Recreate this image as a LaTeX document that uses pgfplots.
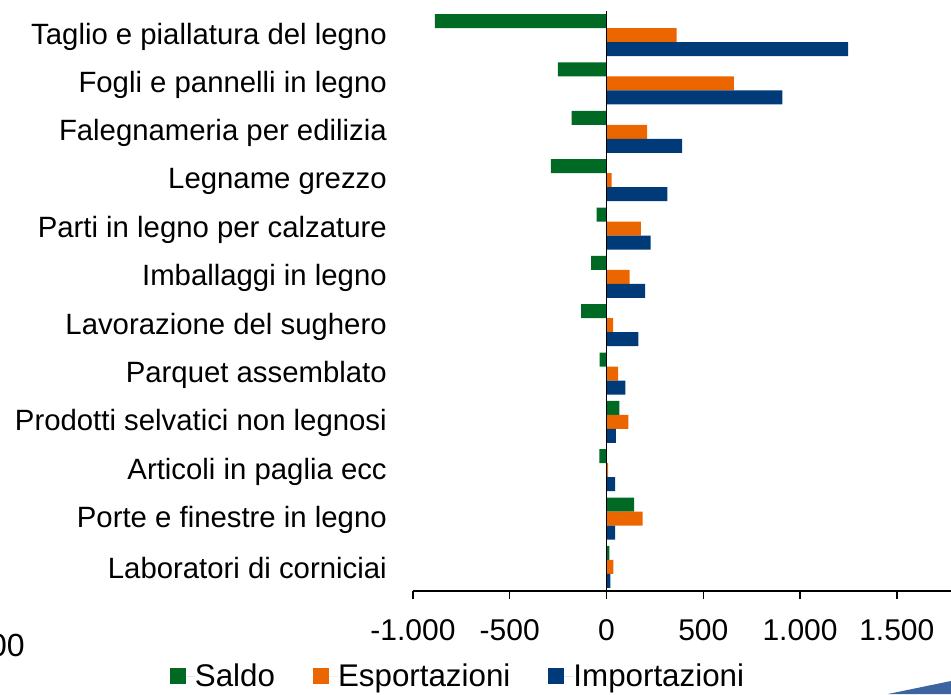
\documentclass[border=0pt]{standalone}
\usepackage{pgfplots}
\pgfplotsset{compat=1.18}
\usepackage{fontspec}
\setmainfont{Liberation Sans}
\definecolor{cgreen}{RGB}{0,106,37}
\definecolor{corange}{RGB}{236,102,0}
\definecolor{cblue}{RGB}{0,58,120}
\definecolor{cwedge}{RGB}{60,100,160}
\newcommand{\bigf}{\fontsize{22}{26}\selectfont}
\newcommand{\legf}{\fontsize{23.5}{28}\selectfont}
\begin{document}
\begin{tikzpicture}
\useasboundingbox (0,0) rectangle (713.25pt,520.5pt);
\begin{axis}[
  at={(309.75pt,77.25pt)}, anchor=south west,
  scale only axis, width=403.5pt, height=435pt,
  xmin=-1000, xmax=1780, ymin=-0.5, ymax=11.5,
  axis lines*=left,
  y axis line style={draw=none},
  x axis line style={line width=1.1pt},
  xbar, bar width=10.5pt,
  xtick={-1000,-500,0,500,1000,1500},
  x tick style={line width=1.1pt, black},
  tick align=outside, major tick length=6pt,
  /pgf/number format/assume math mode=true,
  /pgf/number format/.cd, fixed, set thousands separator={.}, /pgfplots/.cd,
  scaled x ticks=false,
  xticklabel style={font=\fontsize{22.5}{26}\selectfont, inner sep=0pt, anchor=north, yshift=-15pt},
  ytick={0,...,11},
  yticklabels={Laboratori di corniciai, Porte e finestre in legno, Articoli in paglia ecc\ , Prodotti selvatici non legnosi, Parquet assemblato, Lavorazione del sughero, Imballaggi in legno, Parti in legno per calzature, Legname grezzo, Falegnameria per edilizia, Fogli e pannelli in legno, Taglio e piallatura del legno},
  y tick style={draw=none},
  yticklabel style={font=\bigf, inner sep=0pt, anchor=east, xshift=-13.5pt, yshift=-1pt},
  legend columns=3,
  legend style={draw=none, fill=none, font=\legf, at={(0.0818,-0.147)}, anchor=center,
    nodes={inner sep=0pt},
    /tikz/every even column/.append style={column sep=28.5pt}},
  legend image code/.code={\fill[#1,draw=none] (0pt,-6pt) rectangle (12pt,6pt);\path (0pt,0pt) -- (18.75pt,0pt);},
]
\addplot[fill=cgreen, draw=none, bar shift=10.5pt] coordinates {
 (-887,11) (-251,10) (-180,9) (-288,8) (-51,7) (-79,6) (-131,5) (-36,4) (66,3) (-37,2) (142,1) (15,0)};
\addlegendentry{Saldo}
\addplot[fill=corange, draw=none, bar shift=0pt] coordinates {
 (362,11) (658,10) (210,9) (26,8) (177,7) (120,6) (34,5) (60,4) (113,3) (8,2) (187,1) (35,0)};
\addlegendentry{Esportazioni}
\addplot[fill=cblue, draw=none, bar shift=-10.5pt] coordinates {
 (1249,11) (909,10) (390,9) (314,8) (228,7) (199,6) (165,5) (98,4) (48,3) (45,2) (45,1) (20,0)};
\addlegendentry{Importazioni}
\draw[black, line width=1.1pt] (axis cs:0,-0.5) -- (axis cs:0,11.5);
\end{axis}
\node[anchor=east, inner sep=0pt, font=\fontsize{24}{28}\selectfont] at (18.75pt,36.75pt) {00};
\fill[cwedge] (666pt,0pt) -- (713.25pt,9.75pt) -- (713.25pt,0pt) -- cycle;
\end{tikzpicture}
\end{document}
